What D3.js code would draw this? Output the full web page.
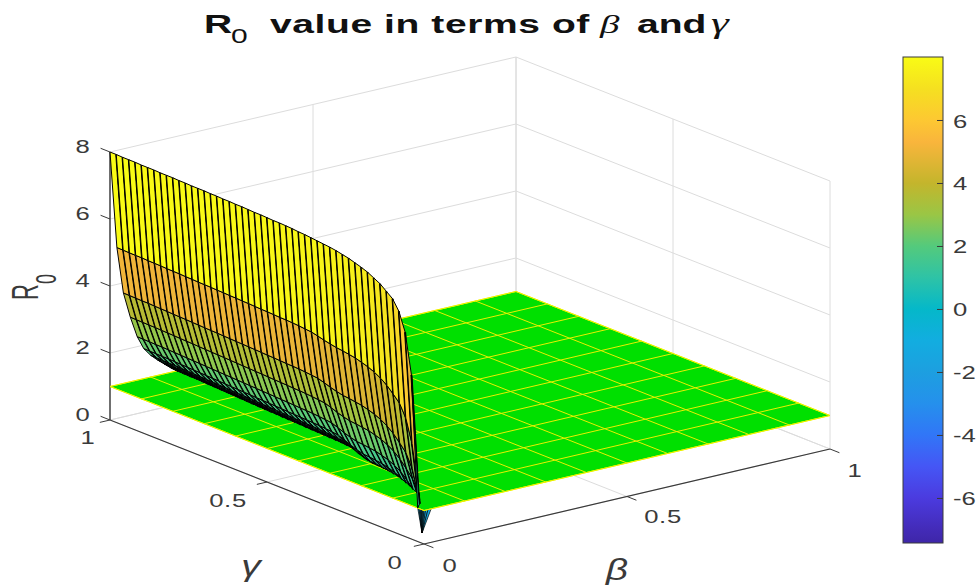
<!DOCTYPE html>
<html>
<head>
<meta charset="utf-8">
<script src="https://d3js.org/d3.v7.min.js"></script>
<style>
  body { margin: 0; background: #fff; }
  text { font-family: "Liberation Sans", sans-serif; fill: #3a3a3a; }
</style>
</head>
<body>
<div id="chart"></div>
<script>
// tick labels
var betaTicks = [0, 0.5, 1];
var gammaTicks = [0, 0.5, 1];
var zTicks = [0, 2, 4, 6, 8];
var colorbarTicks = [-6, -4, -2, 0, 2, 4, 6];

// grid of the green plane R0 = 1
var planeLevel = 1;
var planeGrid = [0, 0.1, 0.2, 0.3, 0.4, 0.5, 0.6, 0.7, 0.8, 0.9, 1];

// surface rows: beta of the row and its height at gamma = 1
var surfBeta = [0, 0.017, 0.033, 0.05, 0.067, 0.083, 0.1, 0.117, 0.133, 0.15, 0.167, 0.183];
var surfRowPeak = [8, 5.1, 3.7, 2.93, 2.3, 1.9, 1.65, 1.46, 1.3, 1.13, 1.02, 0.93];

// surface columns: gamma and the height of the first row there
var surfGamma = [0, 0.02, 0.04, 0.06, 0.08, 0.1, 0.12, 0.14, 0.16, 0.18,
  0.2, 0.22, 0.24, 0.26, 0.28, 0.3, 0.32, 0.34, 0.36, 0.38,
  0.4, 0.42, 0.44, 0.46, 0.48, 0.5, 0.52, 0.54, 0.56, 0.58,
  0.6, 0.62, 0.64, 0.66, 0.68, 0.7, 0.72, 0.74, 0.76, 0.78,
  0.8, 0.82, 0.84, 0.86, 0.88, 0.9, 0.92, 0.94, 0.96, 0.98, 1];
var surfTopEdge = [-7.4, 1, 4.9, 6.1, 6.65, 6.95, 7.1, 7.25, 7.35, 7.45,
  7.52, 7.58, 7.64, 7.68, 7.72, 7.75, 7.77, 7.79, 7.81, 7.83,
  7.84, 7.86, 7.87, 7.88, 7.88, 7.89, 7.9, 7.9, 7.91, 7.92,
  7.92, 7.93, 7.93, 7.94, 7.94, 7.95, 7.95, 7.95, 7.96, 7.96,
  7.97, 7.97, 7.97, 7.98, 7.98, 7.98, 7.99, 7.99, 7.99, 8, 8];
// how far the low rows sink at each column, estimated from where the wall meets the plane
var surfSink = [0, 5, 4.8, 3.2, 2.27, 1.78, 1.5, 1.25, 1.05, 0.92,
  0.82, 0.76, 0.71, 0.69, 0.67, 0.66, 0.6, 0.52, 0.42, 0.33,
  0.3, 0.28, 0.26, 0.25, 0.24, 0.23, 0.22, 0.21, 0.2, 0.19,
  0.18, 0.17, 0.16, 0.15, 0.14, 0.13, 0.12, 0.11, 0.1, 0.09,
  0.08, 0.07, 0.06, 0.05, 0.04, 0.03, 0.02, 0.02, 0.01, 0.01, 0];

// the bit of the surface that pokes out under the front edge of the plane
var spikeBeta = [0, 0.003, 0.006, 0.009, 0.012, 0.016, 0.021, 0.028, 0.037];
var spikeTip = [0.04, 0.058, 0];
var spikeTop = [0.02, 1];
var spikeColor = -1.2;

// colorbar colours
var colorValues = [-7.43, -7, -6, -5, -4, -3, -2, -1, 0, 1, 2, 3, 4, 5.3, 6, 7, 8];
var colorStops = ["#3e26a8", "#432bb8", "#4b3bdf", "#4556f5", "#3176f7", "#2590ec", "#1d9fe0", "#12ade0",
  "#05b8c9", "#2ec3a6", "#54ca7c", "#9ac645", "#c4b52c", "#f9b53c", "#fdc832", "#f5e020", "#f9fb15"];

var width = 976, height = 585;
var ink = "#3a3a3a";
var textStretch = 1.35;

var svg = d3.select("#chart").append("svg")
    .attr("width", width)
    .attr("height", height)
    .style("display", "block");

// the view is orthographic so every data axis is just a straight screen vector
var origin = {x: 424, y: 544};
var betaX = d3.scaleLinear().domain([0, 1]).range([0, 406]);
var betaY = d3.scaleLinear().domain([0, 1]).range([0, -95]);
var gammaX = d3.scaleLinear().domain([0, 1]).range([0, -314]);
var gammaY = d3.scaleLinear().domain([0, 1]).range([0, -124]);
var zY = d3.scaleLinear().domain([0, 8]).range([0, -268]);

var color = d3.scaleLinear().domain(colorValues).range(colorStops);

function project(b, g, z) {
    return [origin.x + betaX(b) + gammaX(g), origin.y + betaY(b) + gammaY(g) + zY(z)];
}

function line3d(parent, a, b, stroke, sw) {
    var p = project(a[0], a[1], a[2]), q = project(b[0], b[1], b[2]);
    parent.append("line")
        .attr("x1", p[0]).attr("y1", p[1])
        .attr("x2", q[0]).attr("y2", q[1])
        .attr("stroke", stroke)
        .attr("stroke-width", sw);
}

// stretched text, the reference is scaled wider than it is tall
function label(parent, x, y, str, size) {
    return parent.append("text")
        .attr("transform", "translate(" + x + "," + y + ") scale(" + textStretch + ",1)")
        .attr("font-size", size)
        .attr("letter-spacing", 0.5)
        .attr("text-anchor", "middle")
        .text(str);
}

function greek(parent, x, y, str) {
    return parent.append("text")
        .attr("transform", "translate(" + x + "," + y + ") scale(1.3,1)")
        .attr("text-anchor", "middle")
        .attr("font-family", "Liberation Serif")
        .attr("font-style", "italic")
        .attr("font-size", 30)
        .text(str);
}

// ---- back walls and floor grid
var grid = svg.append("g");
var gridColor = "#dcdcdc";
zTicks.forEach(function(z) {
    line3d(grid, [0, 1, z], [1, 1, z], gridColor, 1);
    line3d(grid, [1, 1, z], [1, 0, z], gridColor, 1);
});
betaTicks.forEach(function(b) {
    line3d(grid, [b, 1, 0], [b, 1, 8], gridColor, 1);
    line3d(grid, [b, 0, 0], [b, 1, 0], gridColor, 1);
});
gammaTicks.forEach(function(g) {
    line3d(grid, [1, g, 0], [1, g, 8], gridColor, 1);
    line3d(grid, [0, g, 0], [1, g, 0], gridColor, 1);
});

// ---- axes
var axes = svg.append("g");
line3d(axes, [0, 0, 0], [1, 0, 0], ink, 1.2);
line3d(axes, [0, 0, 0], [0, 1, 0], ink, 1.2);
line3d(axes, [0, 1, 0], [0, 1, 8], ink, 1.4);
betaTicks.forEach(function(b) { line3d(axes, [b, 0, 0], [b, -0.03, 0], ink, 1); });
gammaTicks.forEach(function(g) { line3d(axes, [0, g, 0], [-0.025, g, 0], ink, 1); });
zTicks.forEach(function(z) { line3d(axes, [0, 1, z], [0, 1.03, z], ink, 1); });

// ---- spike under the plane, goes first so the plane covers its top
var spike = svg.append("g");
d3.pairs(spikeBeta).forEach(function(pair) {
    var pts = [
        project(pair[0], spikeTop[0], spikeTop[1]),
        project(pair[1], spikeTop[0], spikeTop[1]),
        project(spikeTip[0], spikeTip[1], spikeTip[2])
    ];
    spike.append("polygon")
        .attr("points", pts.join(" "))
        .attr("fill", color(spikeColor))
        .attr("stroke", "#000")
        .attr("stroke-width", 0.7);
});

// ---- green plane
var plane = svg.append("g");
var corners = [[0, 0], [1, 0], [1, 1], [0, 1]].map(function(c) {
    return project(c[0], c[1], planeLevel);
});
plane.append("polygon")
    .attr("points", corners.join(" "))
    .attr("fill", "#00e000")
    .attr("stroke", "#ffff00")
    .attr("stroke-width", 1);
planeGrid.forEach(function(v) {
    line3d(plane, [v, 0, planeLevel], [v, 1, planeLevel], "#e8f000", 1);
    line3d(plane, [0, v, planeLevel], [1, v, planeLevel], "#e8f000", 1);
});

// ---- the surface above the plane
// height of a cell: top edge scaled by the share of that row, minus the sink of the low rows
function surfZ(i, j) {
    var share = surfRowPeak[i] / surfRowPeak[0];
    return surfTopEdge[j] * share - surfSink[j] * (1 - share);
}

// cut a facet (or an edge) at the plane, everything below it is hidden anyway
function clipAbove(verts, level) {
    var out = [];
    verts.forEach(function(v, k) {
        var n = verts[(k + 1) % verts.length];
        if (v[2] >= level) out.push(v);
        if ((v[2] >= level) !== (n[2] >= level)) {
            var t = (level - v[2]) / (n[2] - v[2]);
            out.push([v[0] + t * (n[0] - v[0]), v[1] + t * (n[1] - v[1]), level]);
        }
    });
    return out;
}

function toPoints(verts) {
    return verts.map(function(v) { return project(v[0], v[1], v[2]); }).join(" ");
}

var surf = svg.append("g");
for (var i = surfBeta.length - 2; i >= 0; i--) {
    for (var j = surfGamma.length - 2; j >= 0; j--) {
        var a = [surfBeta[i], surfGamma[j], surfZ(i, j)],
            b = [surfBeta[i + 1], surfGamma[j], surfZ(i + 1, j)],
            c = [surfBeta[i + 1], surfGamma[j + 1], surfZ(i + 1, j + 1)],
            d = [surfBeta[i], surfGamma[j + 1], surfZ(i, j + 1)];
        var facet = clipAbove([a, b, c, d], planeLevel);
        if (facet.length < 3) continue;
        surf.append("polygon")
            .attr("points", toPoints(facet))
            .attr("fill", color(surfZ(i, j)))
            .attr("stroke", "#000")
            .attr("stroke-width", 1)
            .attr("stroke-linejoin", "round");
        // the lines running down the wall look heavier than the ones along it
        var edge = clipAbove([a, b], planeLevel);
        if (edge.length > 1) {
            surf.append("polyline")
                .attr("points", toPoints(edge))
                .attr("fill", "none")
                .attr("stroke", "#000")
                .attr("stroke-width", 2);
        }
    }
}

// ---- tick labels, each one nudged off the axis the way the reference has it
var labels = svg.append("g");
zTicks.forEach(function(z) {
    var p = project(0, 1, z);
    label(labels, p[0] - 27, p[1] + 0.5, z, 19);
});
var gammaNudge = [[-29, 25], [-39, 25], [-22, 24]];
gammaTicks.forEach(function(g, k) {
    var p = project(0, g, 0);
    label(labels, p[0] + gammaNudge[k][0], p[1] + gammaNudge[k][1], g, 19);
});
var betaNudge = [[26, 28], [36, 26], [25, 28]];
betaTicks.forEach(function(b, k) {
    var p = project(b, 0, 0);
    label(labels, p[0] + betaNudge[k][0], p[1] + betaNudge[k][1], b, 19);
});

// greek axis titles
greek(labels, 251, 576, "γ");
greek(labels, 617, 580, "β");

// R0 label on the vertical axis
var zLabel = labels.append("text")
    .attr("transform", "translate(38,300) rotate(-90) scale(1,1.65)")
    .attr("font-size", 22);
zLabel.append("tspan").text("R");
zLabel.append("tspan").attr("dy", 11).attr("font-size", 18).text("0");

// ---- title, placed piece by piece in the stretched space
var titleScale = 1.5;
var titleX = function(px) { return (px - 204) / titleScale; };
var title = svg.append("text")
    .attr("transform", "translate(204,33) scale(" + titleScale + ",1)")
    .attr("font-size", 26)
    .attr("font-weight", "bold")
    .style("fill", "#111");
title.append("tspan").text("R");
title.append("tspan").attr("x", titleX(231)).attr("dy", 10).attr("font-size", 20).attr("font-weight", "normal").text("0");
title.append("tspan").attr("x", titleX(270)).attr("dy", -10).attr("letter-spacing", 0.4).text("value in terms of");
title.append("tspan").attr("x", titleX(600)).attr("font-family", "Liberation Serif").attr("font-style", "italic").attr("font-weight", "normal").text("β");
title.append("tspan").attr("x", titleX(637)).text("and");
title.append("tspan").attr("x", titleX(711)).attr("font-family", "Liberation Serif").attr("font-style", "italic").attr("font-weight", "normal").attr("font-size", 30).text("γ");

// ---- colorbar
var barX = 903, barW = 40, barTop = 57, barBottom = 543;
var barScale = d3.scaleLinear().domain([colorValues[0], 8]).range([barBottom, barTop]);

var gradient = svg.append("defs").append("linearGradient")
    .attr("id", "parula")
    .attr("x1", 0).attr("y1", 1)
    .attr("x2", 0).attr("y2", 0);
colorValues.forEach(function(v, k) {
    gradient.append("stop")
        .attr("offset", (v - colorValues[0]) / (8 - colorValues[0]))
        .attr("stop-color", colorStops[k]);
});

svg.append("rect")
    .attr("x", barX).attr("y", barTop)
    .attr("width", barW).attr("height", barBottom - barTop)
    .attr("fill", "url(#parula)")
    .attr("stroke", ink)
    .attr("stroke-width", 1);

var barAxis = svg.append("g")
    .attr("transform", "translate(" + (barX + barW) + ",0)")
    .call(d3.axisRight(barScale)
        .tickValues(colorbarTicks)
        .tickSize(-6)
        .tickFormat(function(d) { return String(d); }));
barAxis.select(".domain").remove();
barAxis.selectAll(".tick line").attr("stroke", ink);
barAxis.selectAll(".tick text")
    .attr("font-size", 19)
    .attr("font-family", "Liberation Sans")
    .attr("x", 0)
    .attr("dy", null)
    .attr("y", 7)
    .attr("text-anchor", "start")
    .attr("transform", "translate(10,0) scale(" + textStretch + ",1)")
    .style("fill", ink);
</script>
</body>
</html>
